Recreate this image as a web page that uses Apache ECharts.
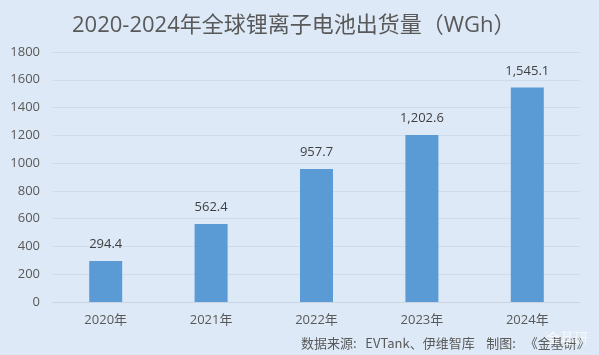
<!DOCTYPE html>
<html>
<head>
<meta charset="utf-8">
<style>
  html, body { margin: 0; padding: 0; background: #dde9f6; }
  #chart { width: 599px; height: 355px; }
</style>
<script src="https://cdn.jsdelivr.net/npm/echarts@6/dist/echarts.min.js"></script>
</head>
<body>
<div id="chart"></div>
<script>
const years = ["2020年", "2021年", "2022年", "2023年", "2024年"];
const shipments = [294.4, 562.4, 957.7, 1202.6, 1545.1];

const font = '"Noto Sans CJK SC", "Open Sans", sans-serif';
const tickFont = '"Open Sans", "Noto Sans CJK SC", sans-serif';

const chart = echarts.init(document.getElementById("chart"));
chart.setOption({
  backgroundColor: "#dde9f6",
  animation: false,
  title: {
    text: "2020-2024年全球锂离子电池出货量（WGh）",
    left: 67,
    top: 10,
    textStyle: { fontFamily: tickFont, fontSize: 22, fontWeight: "normal", color: "#595959" },
  },
  grid: { left: 53, right: 19, top: 52, bottom: 53 },
  xAxis: {
    type: "category",
    data: years,
    axisLine: { lineStyle: { color: "#c9d4e0" } },
    axisTick: { show: false },
    axisLabel: { color: "#595959", fontFamily: tickFont, fontSize: 13, margin: 12 },
  },
  yAxis: {
    type: "value",
    min: 0,
    max: 1800,
    interval: 200,
    axisLine: { show: false },
    axisTick: { show: false },
    axisLabel: { color: "#595959", fontFamily: tickFont, fontSize: 13, margin: 13, formatter: (v) => String(v) },
    splitLine: { lineStyle: { color: "#cfdbe8" } },
  },
  series: [
    {
      type: "bar",
      data: shipments,
      barWidth: 33,
      itemStyle: { color: "#5b9bd5" },
      label: {
        show: true,
        position: "top",
        distance: 10,
        color: "#404040",
        fontFamily: tickFont,
        fontSize: 13,
        formatter: (p) => p.value.toLocaleString("en-US", { minimumFractionDigits: 1 }),
      },
    },
  ],
  graphic: [
    {
      type: "text",
      left: 301,
      top: 337,
      style: {
        text: "数据来源:   EVTank、伊维智库    制图:   《金基研》",
        fill: "#595959",
        font: "13px " + font,
      },
    },
    {
      type: "text",
      left: 546,
      top: 331,
      style: { text: "金基研", fill: "rgba(255,255,255,0.7)", font: "14px " + font },
    },
  ],
});
</script>
</body>
</html>
